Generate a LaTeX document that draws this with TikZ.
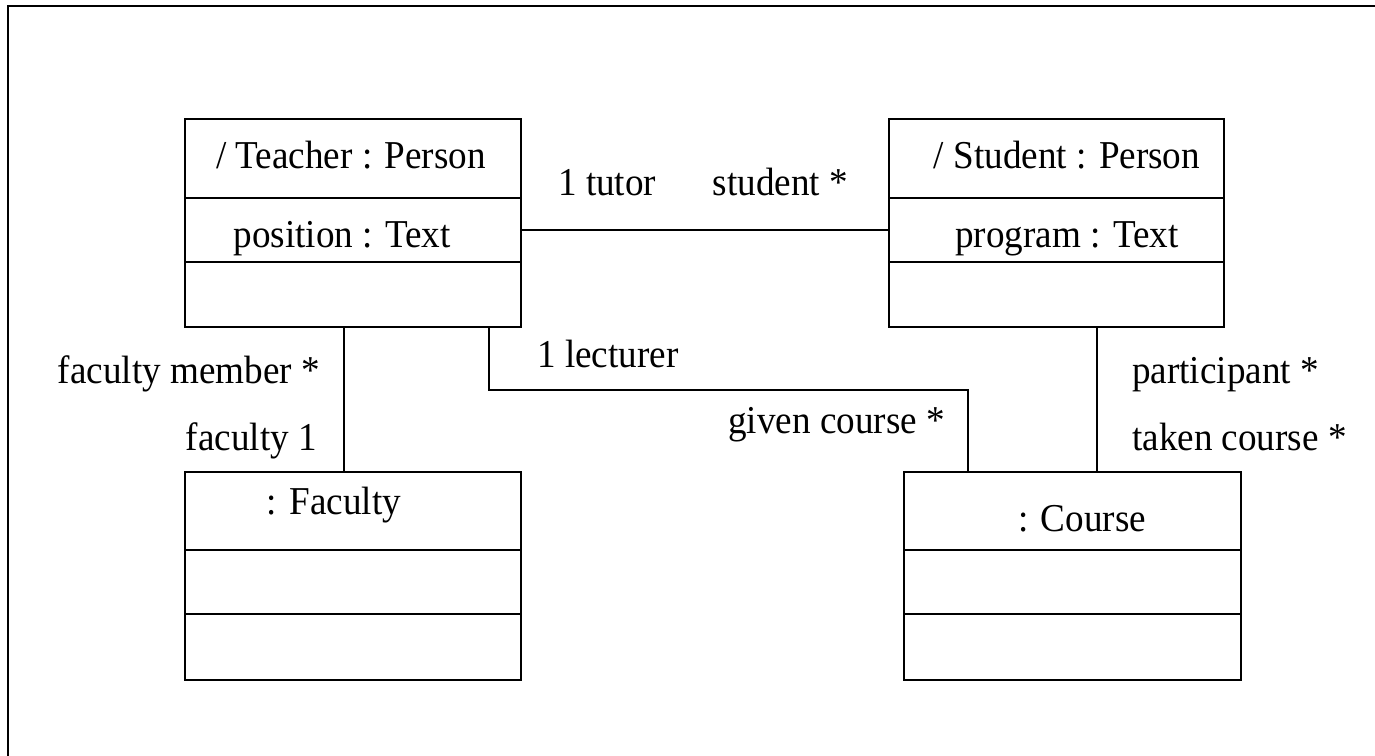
\documentclass[tikz,border=0pt]{standalone}
\usepackage{fontspec}
\setmainfont{Liberation Serif}
\usepackage{graphicx}
\newcommand{\wt}[1]{\scalebox{0.94}[1]{#1}}
\begin{document}
\begin{tikzpicture}[x=1pt,y=-1pt,
  cls/.style={draw, line width=2.4pt, minimum width=#1, minimum height=208pt, anchor=north west, inner sep=0pt},
  cls/.default=336pt,
  lbl/.style={inner sep=0pt, font=\fontsize{39.5}{46}\selectfont},
  conn/.style={line width=2.2pt}]
\useasboundingbox (0,0) rectangle (1375,755);
\draw[line width=2.6pt] (8,760) -- (8,6) -- (1380,6);
% classes
\node[cls] (teacher) at (184,118) {};
\node[cls=335pt] (student) at (888,118) {};
\node[cls] (faculty) at (184,471) {};
\node[cls=337pt] (course) at (903,471) {};
\foreach \n/\a/\b in {teacher/198/262, student/198/262, faculty/550/614, course/550/614}{
  \draw[line width=2.4pt] (\n.west |- 0,\a) -- (\n.east |- 0,\a);
  \draw[line width=2.4pt] (\n.west |- 0,\b) -- (\n.east |- 0,\b);
}
% texts in classes
\node[lbl, anchor=base] (tname) at (351,168) {\wt{/ Teacher : Person}};
\node[lbl, anchor=base] (tattr) at (342,247) {\wt{position : Text}};
\node[lbl, anchor=base] (sname) at (1067,168) {\wt{/ Student : Person}};
\node[lbl, anchor=base] (sattr) at (1067,247) {\wt{program : Text}};
\node[lbl, anchor=base] (fname) at (334,514) {\wt{: Faculty}};
\node[lbl, anchor=base] (cname) at (1082,531) {\wt{: Course}};
% connectors
\draw[conn] (teacher.east |- 0,230) -- (student.west |- 0,230);
\draw[conn] (teacher.south -| 344,0) -- (faculty.north -| 344,0);
\draw[conn] (teacher.south -| 489,0) |- (968,390) -- (course.north -| 968,0);
\draw[conn] (student.south -| 1097,0) -- (course.north -| 1097,0);
% role labels
\node[lbl, anchor=base west] (l1) at (558,195) {\wt{1 tutor}};
\node[lbl, anchor=base east] (l2) at (848,195) {\wt{student *}};
\node[lbl, anchor=base east] (l3) at (320,383) {\wt{faculty member *}};
\node[lbl, anchor=base east] (l4) at (317,450) {\wt{faculty 1}};
\node[lbl, anchor=base west] (l5) at (537,367) {\wt{1 lecturer}};
\node[lbl, anchor=base east] (l6) at (945,433) {\wt{given course *}};
\node[lbl, anchor=base west] (l7) at (1132,383) {\wt{participant *}};
\node[lbl, anchor=base west] (l8) at (1132,450) {\wt{taken course *}};
\end{tikzpicture}
\end{document}
